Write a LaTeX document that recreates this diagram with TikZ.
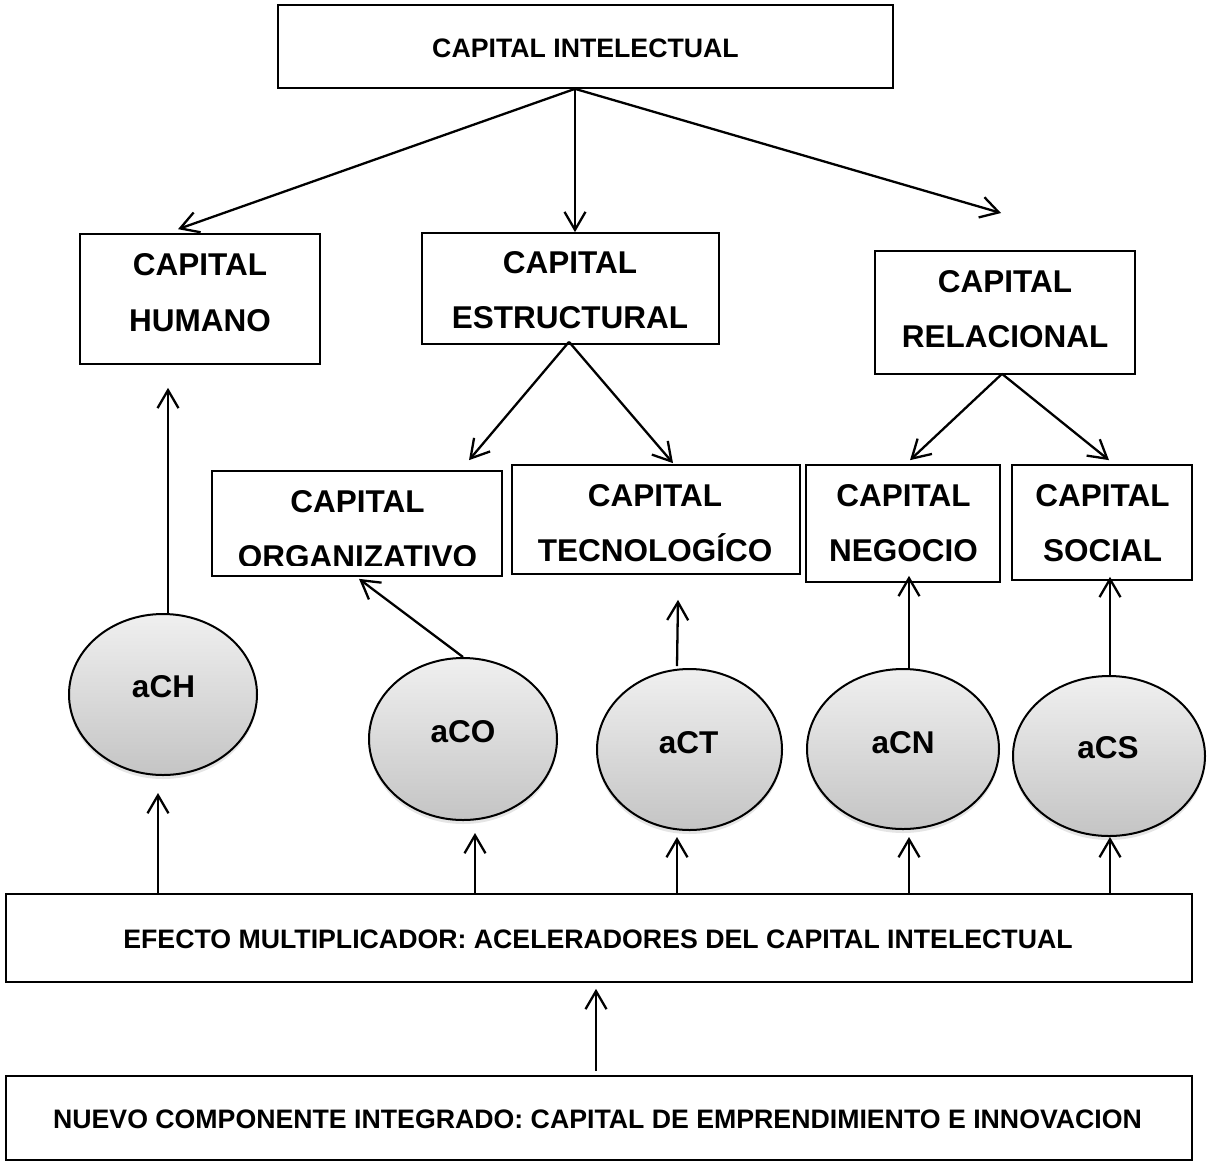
\documentclass[tikz,border=0pt]{standalone}
\usepackage{fontspec}
\setmainfont{Liberation Sans}
\usetikzlibrary{arrows.meta,shapes.geometric,shadows,calc}

\newcommand\lblfont{\fontsize{31.5}{31.5}\selectfont\bfseries}
\newcommand\smlfont{\fontsize{26.7}{26.7}\selectfont\bfseries}

\tikzset{
  box/.style={draw, line width=1.7pt, fill=white, inner sep=0pt},
  biglbl/.style={font=\lblfont, anchor=base, inner sep=0pt},
  smllbl/.style={font=\smlfont, anchor=base, inner sep=0pt},
  accel/.style={ellipse, draw, line width=2pt, inner sep=0pt,
    top color=gray!12, bottom color=gray!46,
    drop shadow={opacity=0.2, shadow xshift=0pt, shadow yshift=-4pt}},
  arr/.style={line width=2.3pt, -{Straight Barb[length=18pt,width=21pt]}},
}

\begin{document}
\begin{tikzpicture}[x=1pt,y=-1pt]
  \fill[white] (0,0) rectangle (1207,1163);
  \useasboundingbox (0,0) rectangle (1207,1163);

  % boxes
  \node[box, minimum width=615, minimum height=83]  (ci)  at (585.5,46.5) {};
  \node[box, minimum width=240, minimum height=130] (hum) at (200,299) {};
  \node[box, minimum width=297, minimum height=111] (est) at (570.5,288.5) {};
  \node[box, minimum width=260, minimum height=123] (rel) at (1005,312.5) {};
  \node[box, minimum width=290, minimum height=105] (org) at (357,523.5) {};
  \node[box, minimum width=288, minimum height=109] (tec) at (656,519.5) {};
  \node[box, minimum width=194, minimum height=117] (neg) at (903,523.5) {};
  \node[box, minimum width=180, minimum height=115] (soc) at (1102,522.5) {};
  \node[box, minimum width=1186, minimum height=88] (efe) at (599,938) {};
  \node[box, minimum width=1186, minimum height=84] (nue) at (599,1118) {};

  % box texts
  \node[smllbl] (ciT) at (585.5,57) {CAPITAL INTELECTUAL};
  \node[biglbl] (humA) at (200,275) {CAPITAL};
  \node[biglbl] (humB) at (200,331) {HUMANO};
  \node[biglbl] (estA) at (570,273) {CAPITAL};
  \node[biglbl] (estB) at (570,328) {ESTRUCTURAL};
  \node[biglbl] (relA) at (1005,292) {CAPITAL};
  \node[biglbl] (relB) at (1005,347) {RELACIONAL};
  \node[biglbl] (orgA) at (357.5,512) {CAPITAL};
  \begin{scope}
    \clip (200,530) rectangle (520,565);
    \node[biglbl] (orgB) at (357.5,567.5) {ORGANIZATIVO};
  \end{scope}
  \node[biglbl] (tecA) at (655,506) {CAPITAL};
  \node[biglbl] (tecB) at (655,561) {TECNOLOGÍCO};
  \node[biglbl] (negA) at (903.5,506) {CAPITAL};
  \node[biglbl] (negB) at (903.5,561) {NEGOCIO};
  \node[biglbl] (socA) at (1102.5,506) {CAPITAL};
  \node[biglbl] (socB) at (1102.5,561) {SOCIAL};
  \node[smllbl] (efeT) at (598,948) {EFECTO MULTIPLICADOR: ACELERADORES DEL CAPITAL INTELECTUAL};
  \node[smllbl] (nueT) at (597.5,1128) {NUEVO COMPONENTE INTEGRADO: CAPITAL DE EMPRENDIMIENTO E INNOVACION};

  % accelerators
  \node[accel, minimum width=188, minimum height=161] (ach) at (163,694.5) {};
  \node[accel, minimum width=188, minimum height=162] (aco) at (463,739) {};
  \node[accel, minimum width=185, minimum height=161] (act) at (689.5,749.5) {};
  \node[accel, minimum width=192, minimum height=160] (acn) at (903,749) {};
  \node[accel, minimum width=192, minimum height=160] (acs) at (1109,756) {};
  \node[biglbl] (achT) at (163.5,697) {aCH};
  \node[biglbl] (acoT) at (463,742) {aCO};
  \node[biglbl] (actT) at (688.5,753) {aCT};
  \node[biglbl] (acnT) at (903,753) {aCN};
  \node[biglbl] (acsT) at (1108,758) {aCS};

  % hierarchy arrows
  \coordinate (ciFoot) at ($(ci.south)+(-10.5,0)$);
  \coordinate (relTip) at (1001,213);
  \draw[arr] (ciFoot) -- ($(hum.north)+(-22,-4)$);
  \draw[arr] (ciFoot) -- ($(est.north)+(4.5,0)$);
  \draw[arr] (ciFoot) -- (relTip);
  \draw[arr] ($(est.south)+(-1.5,-3)$) -- ($(org.north)+(112,-10)$);
  \draw[arr] ($(est.south)+(-1.5,-3)$) -- ($(tec.north)+(17,-1)$);
  \draw[arr] ($(rel.south)+(-3,-1)$) -- ($(neg.north)+(7,-4)$);
  \draw[arr] ($(rel.south)+(-3,-1)$) -- ($(soc.north)+(7,-4)$);

  % accelerators feeding the components
  \draw[arr] ($(ach.north)+(5,0)$) -- ($(hum.south)+(-32,23)$);
  \draw[arr] (aco.north) -- ($(org.south)+(2,2)$);
  \draw[arr] ($(act.north)+(-12.5,-2)$) -- ($(tec.south)+(22,25)$);
  \draw[arr] ($(acn.north)+(6,0)$) -- ($(neg.south)+(6,-7)$);
  \draw[arr] ($(acs.north)+(1,0)$) -- ($(soc.south)+(8,-4)$);

  % multiplier effect feeding the accelerators
  \draw[arr] ($(efe.north)+(-441,0)$) -- ($(ach.south)+(-5,17)$);
  \draw[arr] ($(efe.north)+(-124,0)$) -- ($(aco.south)+(12,12)$);
  \draw[arr] ($(efe.north)+(78,0)$) -- ($(act.south)+(-12.5,6)$);
  \draw[arr] ($(efe.north)+(310,0)$) -- ($(acn.south)+(6,7)$);
  \draw[arr] ($(efe.north)+(511,0)$) -- ($(acs.south)+(1,0)$);

  % new component feeding the multiplier effect
  \draw[arr] ($(nue.north)+(-3,-4)$) -- ($(efe.south)+(-3,6)$);
\end{tikzpicture}
\end{document}
